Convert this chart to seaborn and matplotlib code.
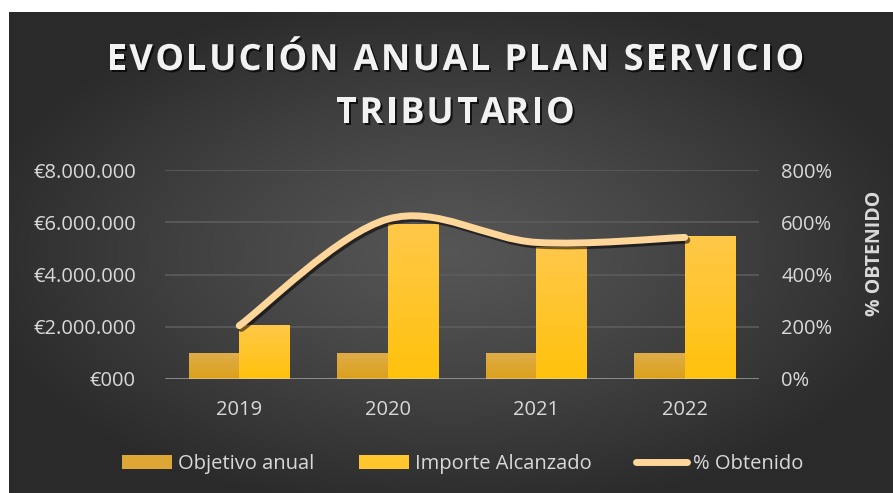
import numpy as np
import pandas as pd
import matplotlib
matplotlib.use("Agg")
import matplotlib.pyplot as plt
import matplotlib.patheffects as pe
import matplotlib.transforms as mtransforms
from matplotlib.path import Path
from matplotlib.patches import PathPatch, Patch
from matplotlib.lines import Line2D
from matplotlib.font_manager import FontProperties
from matplotlib.textpath import text_to_path
import seaborn as sns

# datos del gráfico
years = ["2019", "2020", "2021", "2022"]
objetivo = [1000000, 1000000, 1000000, 1000000]
importe = [2080000, 5920000, 5040000, 5490000]
pct_obtenido = [204, 612, 523, 542]
left_ticks = [0, 2000000, 4000000, 6000000, 8000000]
left_labels = ["€000", "€2.000.000", "€4.000.000", "€6.000.000", "€8.000.000"]
right_ticks = [0, 200, 400, 600, 800]
right_labels = ["0%", "200%", "400%", "600%", "800%"]
series = ["Objetivo anual", "Importe Alcanzado", "% Obtenido"]
title_lines = ["EVOLUCIÓN ANUAL PLAN SERVICIO", "TRIBUTARIO"]

df = pd.DataFrame({
    "year": years * 2,
    "value": objetivo + importe,
    "serie": [series[0]] * 4 + [series[1]] * 4,
})

sns.set_theme(style="white")
plt.rcParams["font.family"] = ["Open Sans", "DejaVu Sans"]

c_obj = "#DEA735"
c_imp = "#FFC62E"
grad_obj = ("#DBA01A", "#DFAD4C")   # abajo, arriba
grad_imp = ("#FFC20C", "#FFC849")
c_line = "#FFD699"
c_text = "#D9D9D9"

W, H = 893, 493
fig = plt.figure(figsize=(W / 100, H / 100), dpi=100)
fig.patch.set_facecolor("white")

# fondo oscuro con degradado radial
bg = fig.add_axes([9 / W, 0, (W - 9) / W, (H - 12) / H], zorder=-10)
gx, gy = np.meshgrid(np.linspace(-1, 1, 400), np.linspace(-1, 1, 220))
r = np.sqrt(gx ** 2 + gy ** 2)
v = np.clip(0.335 - 0.15 * r ** 1.2, 0.165, 1)
bg.imshow(np.dstack([v, v, v]), aspect="auto", extent=[0, 1, 0, 1], interpolation="bicubic")
bg.axis("off")

ax = fig.add_axes([165 / W, (H - 379) / H, 594 / W, 209 / H])
ax.patch.set_alpha(0)
sns.barplot(data=df, x="year", y="value", hue="serie", palette=[c_obj, c_imp],
            width=0.68, saturation=1, linewidth=0, ax=ax, legend=False, zorder=2)

# degradado vertical en cada barra
for cont, (c0, c1) in zip(ax.containers, [grad_obj, grad_imp]):
    rgb0 = np.array(matplotlib.colors.to_rgb(c0))
    rgb1 = np.array(matplotlib.colors.to_rgb(c1))
    t = np.linspace(0, 1, 64)[:, None, None]
    img = rgb0 * (1 - t) + rgb1 * t
    for rect in cont:
        x0, w, h = rect.get_x(), rect.get_width(), rect.get_height()
        im = ax.imshow(img, extent=[x0, x0 + w, 0, h], origin="lower", aspect="auto",
                       zorder=2.1, interpolation="bilinear")
        im.set_clip_path(rect)

ax.set_ylim(0, 8000000)
ax.set_xlim(-0.5, 3.5)
ax.set_yticks(left_ticks)
ax.set_yticklabels(left_labels)
ax.set_xlabel("")
ax.set_ylabel("")
for t in left_ticks[1:]:
    ax.axhline(t, color="#5C5C5C", lw=1.2, zorder=1)
ax.axhline(0, color=c_text, lw=2, alpha=0.55, zorder=3)
for s in ax.spines.values():
    s.set_visible(False)
ax.tick_params(axis="y", length=0, pad=21, labelsize=14.5, labelcolor=c_text)
ax.tick_params(axis="x", length=0, pad=15, labelsize=14.5, labelcolor=c_text)

ax2 = ax.twinx()
ax2.set_ylim(0, 800)
ax2.set_yticks(right_ticks)
ax2.set_yticklabels(right_labels)
for s in ax2.spines.values():
    s.set_visible(False)
ax2.tick_params(axis="y", length=0, pad=16, labelsize=14.5, labelcolor=c_text)

# línea suavizada (bezier estilo Excel)
xs = np.arange(len(pct_obtenido))
ys = pct_obtenido
n = len(xs)
verts = [(xs[0], ys[0])]
codes = [Path.MOVETO]
for i in range(n - 1):
    a, b, c, d = max(i - 1, 0), i, i + 1, min(i + 2, n - 1)
    c1 = (xs[b] + (xs[c] - xs[a]) / 6, ys[b] + (ys[c] - ys[a]) / 6)
    c2 = (xs[c] - (xs[d] - xs[b]) / 6, ys[c] - (ys[d] - ys[b]) / 6)
    verts += [c1, c2, (xs[c], ys[c])]
    codes += [Path.CURVE4] * 3
curve = PathPatch(Path(verts, codes), fill=False, edgecolor=c_line, lw=5, capstyle="round", zorder=5)
curve.set_path_effects([pe.SimpleLineShadow(offset=(1.5, -2), shadow_color="black", alpha=0.55), pe.Normal()])
ax2.add_patch(curve)


# título con espaciado entre letras
def spaced_text(s, xc, yc, size, spacing):
    prop = FontProperties(family="Open Sans", weight="bold", size=size)
    wid = lambda txt: text_to_path.get_text_width_height_descent(txt, prop, ismath=False)[0]
    ref_w = wid("X")
    pos = [wid(s[:i] + "X") - ref_w + i * spacing for i in range(len(s))]
    total = pos[-1] + wid(s[-1])
    shadow = [pe.SimplePatchShadow(offset=(1.5, -1.5), shadow_rgbFace="black", alpha=0.7), pe.Normal()]
    for ch, p in zip(s, pos):
        if ch == " ":
            continue
        tr = mtransforms.offset_copy(fig.transFigure, fig=fig, x=p - total / 2, y=0, units="points")
        fig.text(xc, yc, ch, transform=tr, ha="left", va="center", fontproperties=prop,
                 color="#F2F2F2", path_effects=shadow)


spaced_text(title_lines[0], 0.51, 1 - 61 / H, 26, 1.8)
spaced_text(title_lines[1], 0.51, 1 - 114 / H, 26, 1.8)

fig.text(875 / W, 1 - 253 / H, "% OBTENIDO", ha="center", va="center", rotation=90,
         fontsize=14, fontweight="bold", color=c_text)

handles = [Patch(facecolor=c_obj, edgecolor="none", linewidth=0),
           Patch(facecolor=c_imp, edgecolor="none", linewidth=0),
           Line2D([], [], color=c_line, lw=5, solid_capstyle="round")]
fig.legend(handles, series, loc="center", bbox_to_anchor=(0.518, 1 - 464 / H), ncol=3,
           frameon=False, fontsize=14.5, handlelength=2.5, handleheight=0.75,
           handletextpad=0.3, columnspacing=2.2, labelcolor=c_text)

fig.savefig("out.png", dpi=100)
